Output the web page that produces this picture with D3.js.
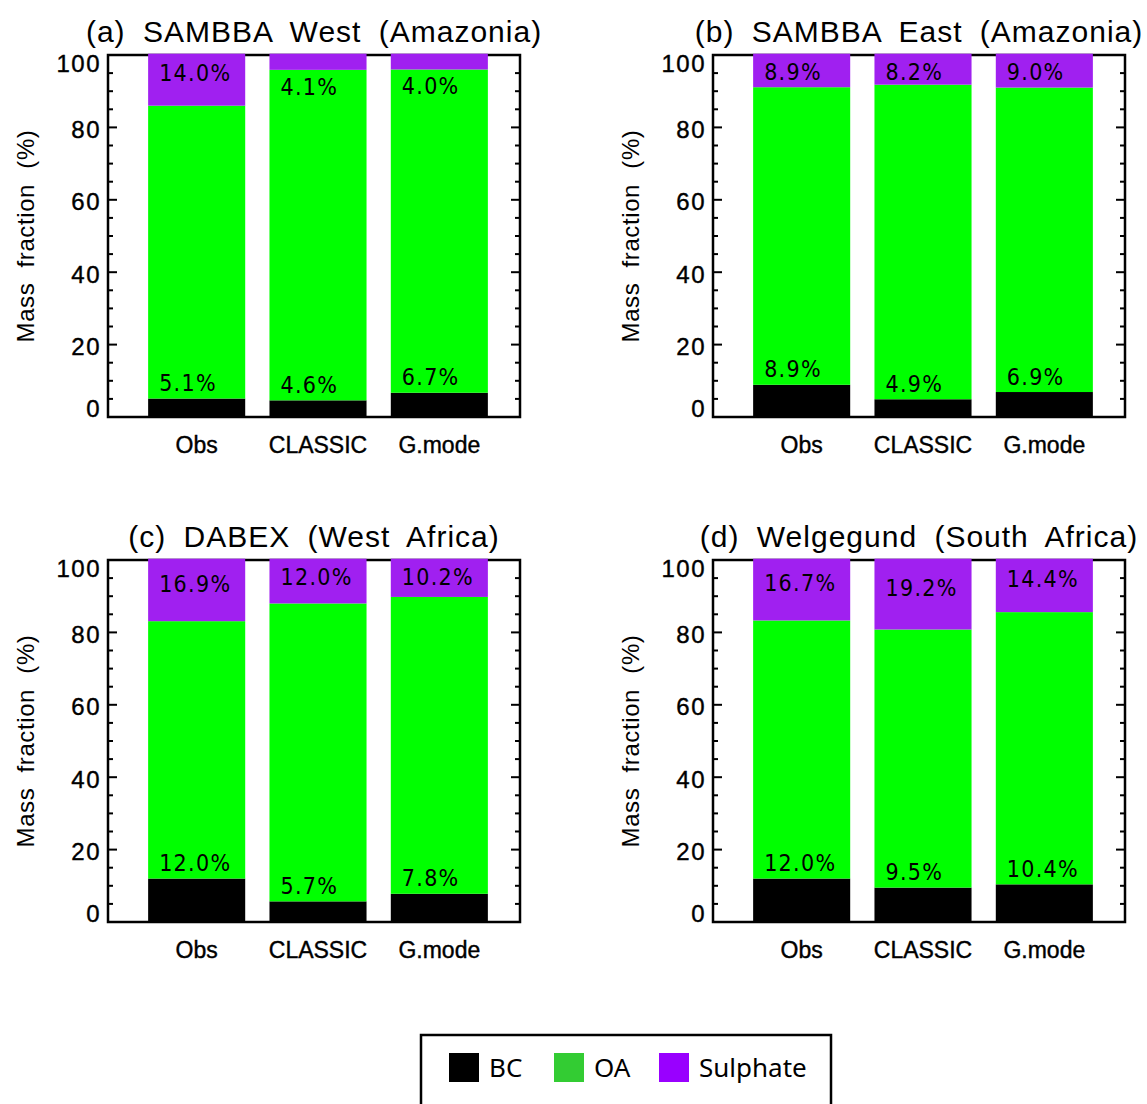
<!DOCTYPE html>
<html>
<head>
<meta charset="utf-8">
<script src="https://cdn.jsdelivr.net/npm/d3@7"></script>
<style>
  html, body { margin: 0; padding: 0; background: #fff; }
  svg { display: block; }
</style>
</head>
<body>
<svg id="chart" width="1147" height="1104"></svg>
<script>
// ---------------- data ----------------
const categories = ["Obs", "CLASSIC", "G.mode"];
const panelTitles = [
  "(a) SAMBBA West (Amazonia)",
  "(b) SAMBBA East (Amazonia)",
  "(c) DABEX (West Africa)",
  "(d) Welgegund (South Africa)"
];
const bcValues = [
  [5.1, 4.6, 6.7],
  [8.9, 4.9, 6.9],
  [12.0, 5.7, 7.8],
  [12.0, 9.5, 10.4]
];
const oaValues = [
  [80.9, 91.3, 89.3],
  [82.2, 86.9, 84.1],
  [71.1, 82.3, 82.0],
  [71.3, 71.3, 75.2]
];
const sulphateValues = [
  [14.0, 4.1, 4.0],
  [8.9, 8.2, 9.0],
  [16.9, 12.0, 10.2],
  [16.7, 19.2, 14.4]
];
const yTicks = [0, 20, 40, 60, 80, 100];
const yMinorTicks = d3.range(0, 101, 5);
const legendLabels = ["BC", "OA", "Sulphate"];
const yLabel = "Mass fraction (%)";

// ---------------- styles ----------------
const barColors = { BC: "#000000", OA: "#00ff00", Sulphate: "#a020f0" };
const legendColors = { BC: "#000000", OA: "#33cc33", Sulphate: "#9900ff" };
const W = 412, H = 362;
const panelOrigins = [[108, 55], [713, 55], [108, 560], [713, 560]];

const svg = d3.select("#chart");
svg.append("rect").attr("width", 1147).attr("height", 1104).attr("fill", "#fff");

const x = d3.scaleBand().domain(categories).range([28, 392]).paddingInner(0.2).paddingOuter(0.1);
const y = d3.scaleLinear().domain([0, 100]).range([H, 0]);

panelTitles.forEach((title, p) => {
  const [ox, oy] = panelOrigins[p];
  const g = svg.append("g").attr("transform", `translate(${ox},${oy})`);

  // frame
  g.append("rect").attr("x", 0).attr("y", 0).attr("width", W).attr("height", H)
    .attr("fill", "none").attr("stroke", "#000").attr("stroke-width", 2.5);

  // ticks (inward, left and right)
  const tg = g.append("g").attr("stroke", "#000").attr("stroke-width", 2);
  yMinorTicks.forEach(v => {
    const len = (v % 20 === 0) ? 9 : 5;
    tg.append("line").attr("x1", 0).attr("x2", len).attr("y1", y(v)).attr("y2", y(v));
    tg.append("line").attr("x1", W).attr("x2", W - len).attr("y1", y(v)).attr("y2", y(v));
  });

  // stacked bars
  const rows = categories.map((c, i) => ({
    cat: c, BC: bcValues[p][i], OA: oaValues[p][i], Sulphate: sulphateValues[p][i]
  }));
  const stack = d3.stack().keys(["BC", "OA", "Sulphate"])(rows);
  stack.forEach(layer => {
    g.append("g").attr("fill", barColors[layer.key])
      .selectAll("rect").data(layer).join("rect")
      .attr("x", d => x(d.data.cat))
      .attr("width", x.bandwidth())
      .attr("y", d => y(Math.min(d[1], 100)) - (d[1] >= 99.95 ? 1.3 : 0))
      .attr("height", d => y(d[0]) - y(Math.min(d[1], 100)) + (d[1] >= 99.95 ? 1.3 : 0));
  });

  // value labels
  const lab = g.append("g").attr("font-family", "'Liberation Sans Narrow', 'DejaVu Sans Condensed', 'Liberation Sans', sans-serif")
    .attr("font-size", 23).attr("letter-spacing", 1.3).attr("fill", "#000");
  rows.forEach(r => {
    const bx = x(r.cat) + 11;
    lab.append("text").attr("x", bx).attr("y", y(r.BC) - 7.5).text(r.BC.toFixed(1) + "%");
    let sy;
    if (r.Sulphate < 5) sy = y(100 - r.Sulphate) + 25;
    else sy = Math.max(y(100 - r.Sulphate / 2) + 1, y(100) + 25);
    lab.append("text").attr("x", bx).attr("y", sy).text(r.Sulphate.toFixed(1) + "%");
  });

  // y tick labels
  const yl = g.append("g").attr("font-family", "'Liberation Sans', Arial, sans-serif")
    .attr("font-size", 24).attr("letter-spacing", 1.5).attr("text-anchor", "end")
    .attr("dominant-baseline", "central").attr("fill", "#000")
    .attr("stroke", "#000").attr("stroke-width", 0.4);
  yTicks.forEach(v => {
    const cy = Math.min(Math.max(y(v) + 2, 8), H - 9);
    yl.append("text").attr("x", -7).attr("y", cy).text(v);
  });

  // category labels
  g.append("g").attr("font-family", "'Liberation Sans', Arial, sans-serif")
    .attr("font-size", 23).attr("text-anchor", "middle").attr("fill", "#000")
    .attr("stroke", "#000").attr("stroke-width", 0.4)
    .selectAll("text").data(categories).join("text")
    .attr("x", d => x(d) + x.bandwidth() / 2).attr("y", H + 36).text(d => d);

  // y-axis title
  g.append("text")
    .attr("transform", `translate(${-74},${H / 2}) rotate(-90)`)
    .attr("text-anchor", "middle")
    .attr("font-family", "'Liberation Sans', Arial, sans-serif")
    .attr("font-size", 24).attr("word-spacing", 8).attr("letter-spacing", 0.6)
    .text(yLabel);

  // panel title
  g.append("text")
    .attr("x", W / 2).attr("y", -13).attr("text-anchor", "middle")
    .attr("font-family", "'Liberation Sans', Arial, sans-serif")
    .attr("font-size", 30).attr("word-spacing", 8).attr("letter-spacing", 1)
    .text(title);
});

// ---------------- legend ----------------
const lg = svg.append("g").attr("transform", "translate(421,1035)");
lg.append("rect").attr("x", 0).attr("y", 0).attr("width", 410).attr("height", 100)
  .attr("fill", "#fff").attr("stroke", "#000").attr("stroke-width", 2.5);
legendLabels.forEach((k, i) => {
  const lx = 28 + i * 105;
  lg.append("rect").attr("x", lx).attr("y", 18).attr("width", 30).attr("height", 29)
    .attr("fill", legendColors[k]);
  lg.append("text").attr("x", lx + 40).attr("y", 42)
    .attr("font-family", "'Noto Sans', 'Open Sans', sans-serif").attr("font-size", 26)
    .attr("fill", "#000").text(k);
});
</script>
</body>
</html>
